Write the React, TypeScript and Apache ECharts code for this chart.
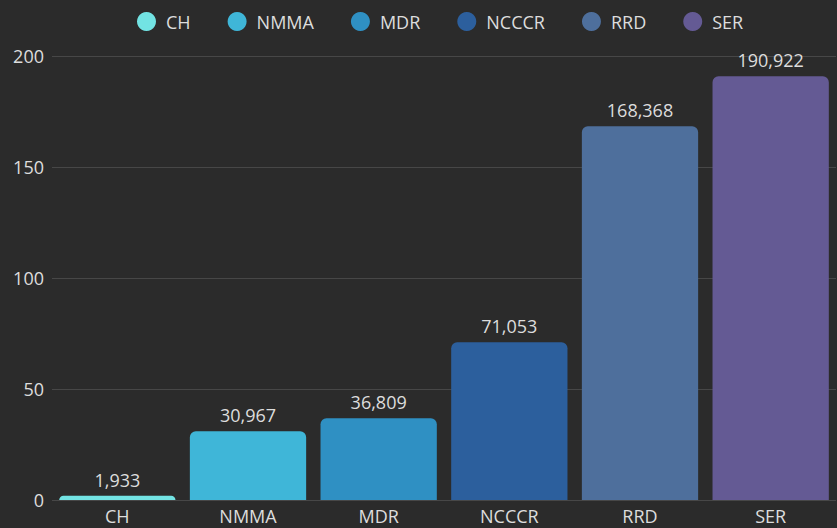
import React, { useEffect, useRef } from "react";
import * as echarts from "echarts";

const categories = ["CH", "NMMA", "MDR", "NCCCR", "RRD", "SER"];
const values = [1933, 30967, 36809, 71053, 168368, 190922];
const colors = ["#72e3e3", "#3fb6d8", "#2f90c3", "#2c5f9d", "#4e6f9c", "#645a94"];
const yTicks = [0, 50, 100, 150, 200];

export default function App() {
  const ref = useRef<HTMLDivElement>(null);
  useEffect(() => {
    const chart = echarts.init(ref.current!, null, { renderer: "svg" });
    const font = "'Open Sans', 'Noto Sans', sans-serif";
    chart.setOption({
      animation: false,
      backgroundColor: "#2b2b2b",
      textStyle: { fontFamily: font },
      legend: {
        top: 7,
        left: 132,
        icon: "circle",
        itemWidth: 19,
        itemHeight: 19,
        itemGap: 37,
        textStyle: { color: "#dddddd", fontSize: 18, fontFamily: font, padding: [0, 0, 0, 5] },
        data: categories,
      },
      grid: { left: 52, right: 1, top: 56, bottom: 28, containLabel: false },
      xAxis: {
        type: "category",
        data: categories,
        axisLine: { show: false },
        axisTick: { show: false },
        axisLabel: { color: "#dddddd", fontSize: 18, margin: 7, fontFamily: font },
      },
      yAxis: {
        type: "value",
        min: 0,
        max: yTicks[yTicks.length - 1] * 1000,
        interval: 50000,
        axisLine: { show: false },
        axisTick: { show: false },
        splitLine: { lineStyle: { color: "#474747", width: 1 } },
        axisLabel: {
          color: "#dddddd",
          fontSize: 18,
          margin: 8,
          fontFamily: font,
          formatter: (v: number) => String(v / 1000),
        },
      },
      series: categories.map((c, i) => ({
        name: c,
        type: "bar",
        stack: "all",
        barWidth: "89%",
        itemStyle: { color: colors[i], borderRadius: [6, 6, 0, 0] },
        label: {
          show: true,
          position: "top",
          distance: 7,
          color: "#dddddd",
          fontSize: 18,
          fontFamily: font,
          formatter: (p: any) => Number(p.value).toLocaleString("en-US"),
        },
        data: categories.map((_, j) => (j === i ? values[i] : null)),
      })),
    });
    return () => chart.dispose();
  }, []);
  return <div ref={ref} style={{ width: 837, height: 528, position: "fixed", left: 0, top: 0 }} />;
}
